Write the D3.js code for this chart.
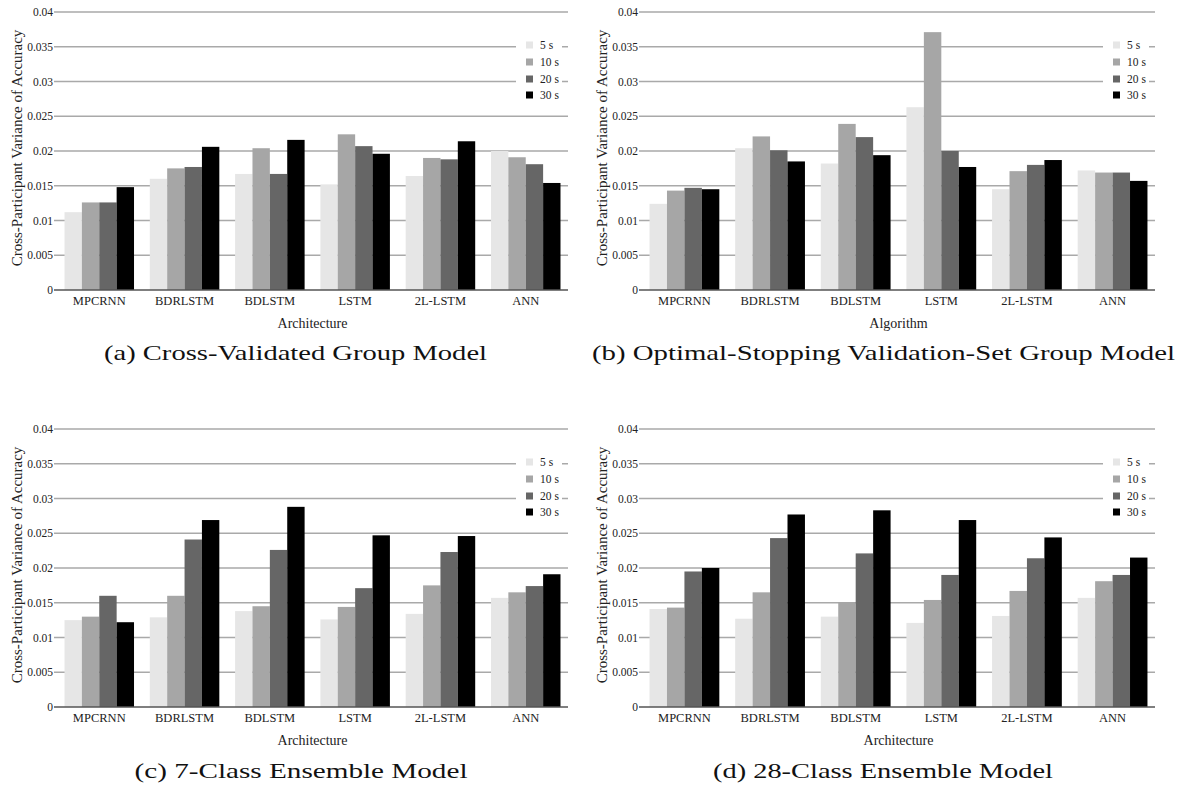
<!DOCTYPE html>
<html><head><meta charset="utf-8">
<script src="https://cdn.jsdelivr.net/npm/d3@7"></script>
<style>body{margin:0;background:#fff}svg{display:block}
svg text{font-family:"Liberation Serif","Noto Serif","DejaVu Serif",serif}</style>
</head><body>
<svg id="c" width="1182" height="788"></svg>
<script>
// ---- data ----
const categories = ["MPCRNN","BDRLSTM","BDLSTM","LSTM","2L-LSTM","ANN"];
const seriesNames = ["5 s","10 s","20 s","30 s"];
const seriesColors = ["#e6e6e6","#a6a6a6","#666666","#000000"];
const yTickValues = [0,0.005,0.01,0.015,0.02,0.025,0.03,0.035,0.04];
const yTickLabels = ["0","0.005","0.01","0.015","0.02","0.025","0.03","0.035","0.04"];

// (a) Cross-Validated Group Model
const a5  = [0.0112,0.0160,0.0167,0.0152,0.0164,0.0200];
const a10 = [0.0126,0.0175,0.0204,0.0224,0.0190,0.0191];
const a20 = [0.0126,0.0177,0.0167,0.0207,0.0188,0.0181];
const a30 = [0.0148,0.0206,0.0216,0.0196,0.0214,0.0154];
// (b) Optimal-Stopping Validation-Set Group Model
const b5  = [0.0124,0.0204,0.0182,0.0263,0.0145,0.0172];
const b10 = [0.0143,0.0221,0.0239,0.0371,0.0171,0.0169];
const b20 = [0.0147,0.0201,0.0220,0.0200,0.0180,0.0169];
const b30 = [0.0145,0.0185,0.0194,0.0177,0.0187,0.0157];
// (c) 7-Class Ensemble Model
const c5  = [0.0125,0.0129,0.0138,0.0126,0.0134,0.0157];
const c10 = [0.0130,0.0160,0.0145,0.0144,0.0175,0.0165];
const c20 = [0.0160,0.0241,0.0226,0.0171,0.0223,0.0174];
const c30 = [0.0122,0.0269,0.0288,0.0247,0.0246,0.0191];
// (d) 28-Class Ensemble Model
const d5  = [0.0141,0.0127,0.0130,0.0121,0.0131,0.0157];
const d10 = [0.0143,0.0165,0.0151,0.0154,0.0167,0.0181];
const d20 = [0.0195,0.0243,0.0221,0.0190,0.0214,0.0190];
const d30 = [0.0200,0.0277,0.0283,0.0269,0.0244,0.0215];

const panels = [
  {series:[a5,a10,a20,a30], left:57,  right:568,  top:12,  bottom:290, xTitle:"Architecture", caption:"(a) Cross-Validated Group Model", cx:295.5, cy:360, cw:383},
  {series:[b5,b10,b20,b30], left:642, right:1155, top:12,  bottom:290, xTitle:"Algorithm", caption:"(b) Optimal-Stopping Validation-Set Group Model", cx:883.5, cy:360, cw:583},
  {series:[c5,c10,c20,c30], left:57,  right:568,  top:429, bottom:707, xTitle:"Architecture", caption:"(c) 7-Class Ensemble Model", cx:301, cy:778, cw:333},
  {series:[d5,d10,d20,d30], left:642, right:1155, top:429, bottom:707, xTitle:"Architecture", caption:"(d) 28-Class Ensemble Model", cx:883, cy:778, cw:340}
];

const svg = d3.select("#c");

panels.forEach(p => {
  const g = svg.append("g");
  const y = d3.scaleLinear().domain([0,0.04]).range([p.bottom,p.top]);
  const x = d3.scaleBand().domain(categories).range([p.left,p.right]).paddingInner(0.185).paddingOuter(0.088);
  const xs = d3.scaleBand().domain(seriesNames).range([0,x.bandwidth()]).padding(0);

  // gridlines
  g.append("g").selectAll("line").data(yTickValues.filter(v=>v>0)).join("line")
    .attr("x1",p.left-3).attr("x2",p.right).attr("y1",d=>y(d)).attr("y2",d=>y(d))
    .attr("stroke","#a9a9a9").attr("stroke-width",1.3);
  // y tick labels
  g.append("g").selectAll("text").data(yTickValues).join("text")
    .attr("x",p.left-4).attr("y",d=>y(d)).attr("dy","0.35em")
    .attr("text-anchor","end").attr("font-size",11.5).attr("fill","#222")
    .text((d,i)=>yTickLabels[i]);

  // bars
  const rows = [];
  categories.forEach((c,ci)=>seriesNames.forEach((s,si)=>rows.push({c,s,si,v:p.series[si][ci]})));
  g.append("g").selectAll("rect").data(rows).join("rect")
    .attr("x",d=>x(d.c)+xs(d.s)).attr("width",xs.bandwidth())
    .attr("y",d=>y(d.v)).attr("height",d=>y(0)-y(d.v))
    .attr("fill",d=>seriesColors[d.si]);

  // baseline
  g.append("line").attr("x1",p.left-3).attr("x2",p.right).attr("y1",y(0)).attr("y2",y(0))
    .attr("stroke","#555").attr("stroke-width",1.5);

  // x labels
  g.append("g").selectAll("text").data(categories).join("text")
    .attr("x",d=>x(d)+x.bandwidth()/2).attr("y",p.bottom+15)
    .attr("text-anchor","middle").attr("font-size",12.5).attr("fill","#222")
    .text(d=>d);
  // x title
  g.append("text").attr("x",(p.left+p.right)/2).attr("y",p.bottom+38)
    .attr("text-anchor","middle").attr("font-size",14).attr("fill","#222")
    .text(p.xTitle);
  // y title
  g.append("text").attr("transform",`translate(${p.left-35},${(p.top+p.bottom)/2-3}) rotate(-90)`)
    .attr("text-anchor","middle").attr("font-size",15).attr("fill","#222")
    .text("Cross-Participant Variance of Accuracy");

  // legend
  const lg = g.append("g");
  lg.append("rect").attr("x",p.right-52).attr("y",p.top+22).attr("width",46).attr("height",72).attr("fill","#fff");
  const rowY = [33,50,67,83];
  seriesNames.forEach((s,i)=>{
    lg.append("rect").attr("x",p.right-42).attr("y",p.top+rowY[i]-3.5).attr("width",7).attr("height",7).attr("fill",seriesColors[i]);
    lg.append("text").attr("x",p.right-28).attr("y",p.top+rowY[i]).attr("dy","0.35em")
      .attr("font-size",11.5).attr("fill","#222").text(s);
  });

  // caption
  svg.append("text").attr("x",p.cx).attr("y",p.cy).attr("text-anchor","middle")
    .attr("font-size",21).attr("fill","#111")
    .attr("textLength",p.cw).attr("lengthAdjust","spacingAndGlyphs")
    .text(p.caption);
});
</script>
</body></html>
